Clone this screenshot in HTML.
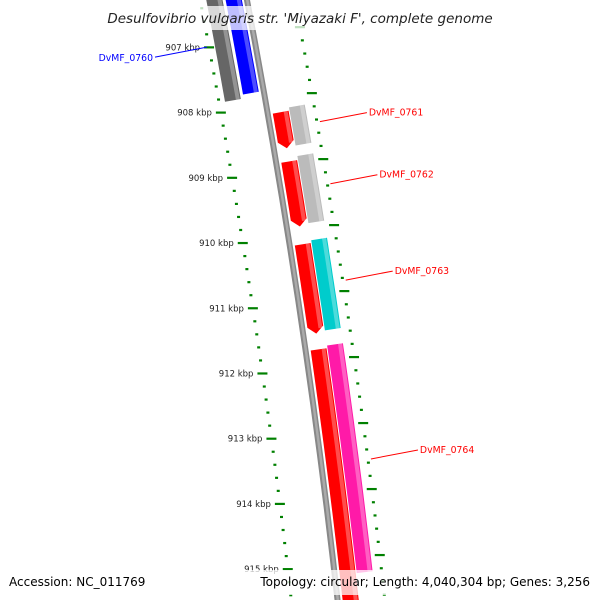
<!DOCTYPE html>
<html><head><meta charset="utf-8"><style>
html,body{margin:0;background:#fff;width:600px;height:600px;overflow:hidden}
svg{display:block;font-family:"DejaVu Sans","Liberation Sans",sans-serif}
</style></head><body>
<svg id="map" width="600" height="600" viewBox="0 0 600 600">
<g id="ticks"></g>
<g id="genes"></g>
<g id="labels"></g>
<rect x="100" y="6" width="400" height="24" fill="#fff" fill-opacity="0.75"/>
<text x="300" y="23" text-anchor="middle" font-size="13.5" font-style="italic" fill="#222">Desulfovibrio vulgaris str. 'Miyazaki F', complete genome</text>
<rect x="0" y="570" width="600" height="25" fill="#fff" fill-opacity="0.75"/>
<text x="9" y="586" font-size="12" fill="#000">Accession: NC_011769</text>
<text x="590" y="586" text-anchor="end" font-size="12" fill="#000">Topology: circular; Length: 4,040,304 bp; Genes: 3,256</text>
</svg>
<script>
const kbpTicks=[907,908,909,910,911,912,913,914,915];
const geneNames=["DvMF_0760","DvMF_0760b","DvMF_0761","DvMF_0761b","DvMF_0762","DvMF_0762b","DvMF_0763","DvMF_0763b","DvMF_0764","DvMF_0764b"];
const geneStart=[906.0,906.0,908.15,908.10,908.90,908.84,910.16,910.12,911.76,911.72];
const geneEnd=[907.85,907.79,908.70,908.68,909.89,909.86,911.52,911.49,916.0,915.18];
const geneColors=["#666","#0000ff","#ff0000","#bbb","#ff0000","#bbb","#ff0000","#00cccc","#ff0000","#ff1aa8"];
const geneOffsets=[-40,-21,5,22,5,22,5,22,5,22];
const geneArrow=[0,0,1,0,1,0,1,0,0,0];
const labelText=["DvMF_0760","DvMF_0761","DvMF_0762","DvMF_0763","DvMF_0764"];
const labelKbp=[906.99,908.39,909.33,910.79,913.5];
const labelColor=["#0000ff","#ff0000","#ff0000","#ff0000","#ff0000"];
const labelSide=[-1,1,1,1,1];

const NS="http://www.w3.org/2000/svg";
function yOf(k){return 39+(k-907)*65.6;}
function bx(y){return 247+0.19*y-0.000065*y*y;}
function pt(y,d){const s=0.19-0.00013*y,l=Math.sqrt(1+s*s);return [bx(y)+d/l,y-d*s/l];}
function mk(tag,attrs,parent){const e=document.createElementNS(NS,tag);for(const k in attrs)e.setAttribute(k,attrs[k]);parent.appendChild(e);return e;}
function band(y1,y2,d1,d2,arrow){
  const pts=[];const n=12;
  const yEnd=arrow?y2-7:y2;
  for(let i=0;i<=n;i++){const y=y1+(y2-y1)*i/n;pts.push(pt(i==n?yEnd:y,d1));}
  if(arrow)pts.push(pt(y2,(d1+d2)/2));
  const back=[];for(let i=n;i>=0;i--){const y=y1+(y2-y1)*i/n;back.push(pt(i==n?yEnd:y,d2));}
  return pts.concat(back).map(p=>p[0].toFixed(1)+","+p[1].toFixed(1)).join(" ");
}
const T=document.getElementById("ticks"),G=document.getElementById("genes"),L=document.getElementById("labels");
const bb=mk("polygon",{points:band(-10,610,-3,3,0),fill:"#888"},G);


const bb2=mk("polygon",{points:band(-10,610,-1,1.5,0),fill:"#aaa"},G);


for(let k=906;k<=916;k+=0.2){
  const y=yOf(k);const major=Math.abs(k-Math.round(k))<0.01;
  const a=pt(y,-46),len=major?5:1.5;
  const t=mk("line",{x1:a[0]-len,y1:a[1],x2:a[0]+len,y2:a[1],stroke:"#008000","stroke-width":2.2},T);
  
  
  const b=pt(yOf(k+0.95),47);
  const t2=mk("line",{x1:b[0]-len,y1:b[1],x2:b[0]+len,y2:b[1],stroke:"#008000","stroke-width":2.2},T);
  
  
}
kbpTicks.forEach(k=>{
  const a=pt(yOf(k),-46);
  const tx=mk("text",{x:a[0]-9,y:a[1]+3,"text-anchor":"end","font-size":8.5,fill:"#222"},T);
  tx.textContent=k+" kbp";
  
  
});
geneNames.forEach((n,i)=>{
  const d1=geneOffsets[i],d2=d1+16;
  const g=mk("polygon",{points:band(yOf(geneStart[i]),yOf(geneEnd[i]),d1,d2,geneArrow[i]),fill:geneColors[i]},G);
  
  
  const h=mk("polygon",{points:band(yOf(geneStart[i]),yOf(geneEnd[i])-(geneArrow[i]?5:0),d2-5,d2-1,0),fill:"#fff","fill-opacity":0.3},G);
  
  
});
labelText.forEach((s,i)=>{
  const y=yOf(labelKbp[i]);
  let a,b,tx;
  if(labelSide[i]<0){a=pt(y,-48);b=[a[0]-52,a[1]+10];tx=mk("text",{x:b[0]-2,y:b[1]+4,"text-anchor":"end","font-size":9.3,fill:labelColor[i]},L);}
  else{a=pt(y,50);b=[a[0]+47,a[1]-9];tx=mk("text",{x:b[0]+2,y:b[1]+3,"font-size":9.3,fill:labelColor[i]},L);}
  const ln=mk("line",{x1:a[0],y1:a[1],x2:b[0],y2:b[1],stroke:labelColor[i],"stroke-width":1},L);
  
  
  tx.textContent=s;
  
  
});
</script>
</body></html>
